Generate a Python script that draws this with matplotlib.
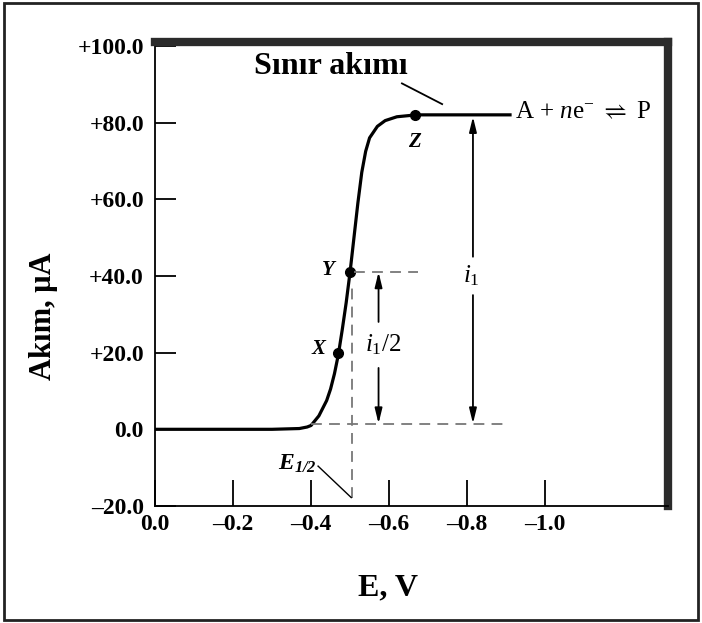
import matplotlib.pyplot as plt
from matplotlib.patches import Rectangle

# Polarogram values (E in V, current in microampere)
e_curve = [0.0, -0.30, -0.37, -0.39, -0.40, -0.42, -0.44, -0.45, -0.46, -0.47,
           -0.48, -0.49, -0.50, -0.51, -0.52, -0.53, -0.54, -0.55, -0.57, -0.59,
           -0.62, -0.67, -0.91]
i_curve = [0.0, 0.0, 0.2, 0.6, 1.0, 3.5, 7.5, 10.5, 14.5, 19.5,
           26.0, 33.0, 41.0, 50.0, 59.0, 67.0, 72.5, 76.0, 79.0, 80.5,
           81.5, 82.0, 82.0]

point_names = ['X', 'Y', 'Z']
point_e = [-0.470, -0.500, -0.667]
point_i = [20.0, 41.0, 82.0]

e_half = -0.505
i_base = 1.5

x_ticks = [0.0, -0.2, -0.4, -0.6, -0.8, -1.0]
x_labels = ['0.0', '\u20130.2', '\u20130.4', '\u20130.6', '\u20130.8', '\u20131.0']
y_ticks = [-20, 0, 20, 40, 60, 80, 100]
y_labels = ['\u201320.0', '0.0', '+20.0', '+40.0', '+60.0', '+80.0', '+100.0']

plt.rcParams['font.family'] = ['Liberation Serif', 'DejaVu Serif']
plt.rcParams['mathtext.fontset'] = 'custom'
plt.rcParams['mathtext.rm'] = 'Liberation Serif'
plt.rcParams['mathtext.it'] = 'Liberation Serif:italic'
plt.rcParams['mathtext.bf'] = 'Liberation Serif:bold:italic'

fig = plt.figure(figsize=(7.02, 6.23), dpi=100)
ax = fig.add_axes([0.2208, 0.1878, 0.7308, 0.7448])

# Frame round the whole picture
fig.patches.append(Rectangle((0.005, 0.005), 0.99, 0.99, transform=fig.transFigure,
                             fill=False, edgecolor='#222222', linewidth=2))

# Curve and marked points
ax.plot(e_curve, i_curve, color='black', lw=2.3, solid_joinstyle='round')
ax.plot(point_e, point_i, 'o', color='black', ms=7)

# Dashed construction lines
dash = dict(color='#777777', lw=1.3, ls=(0, (6, 4)))
ax.plot([e_half, e_half], [-18, 38], **dash)
ax.plot([-0.51, -0.675], [41, 41], **dash)
ax.plot([-0.40, -0.90], [i_base, i_base], **dash)

# Arrows for i1 and i1/2
arrow = dict(arrowstyle='-|>,head_length=0.9,head_width=0.22', color='black', lw=1.3,
             shrinkA=0, shrinkB=0)
ax.annotate('', xy=(-0.573, 41), xytext=(-0.573, 28), arrowprops=arrow)
ax.annotate('', xy=(-0.573, i_base), xytext=(-0.573, 16), arrowprops=arrow)
ax.text(-0.585, 22, r'$i_1/2$', fontsize=18, ha='center', va='center')

ax.annotate('', xy=(-0.815, 81.5), xytext=(-0.815, 45), arrowprops=arrow)
ax.annotate('', xy=(-0.815, i_base), xytext=(-0.815, 35), arrowprops=arrow)
ax.text(-0.812, 40, r'$i_1$', fontsize=18, ha='center', va='center')

# Point labels
label_font = dict(fontsize=15, fontstyle='italic', fontweight='bold',
                  ha='center', va='center')
ax.text(-0.418, 21, point_names[0], **label_font)
ax.text(-0.444, 41.5, point_names[1], **label_font)
ax.text(-0.664, 75, point_names[2], **label_font)
ax.text(-0.364, -9.1, r'$\mathbf{E_{1/2}}$', fontsize=17, ha='center', va='center')
ax.plot([-0.418, -0.503], [-9.6, -17.8], color='black', lw=1)

# Limiting current note and reaction
ax.text(-0.452, 94.5, 'S\u0131n\u0131r ak\u0131m\u0131', fontsize=23, fontweight='bold',
        ha='center', va='center')
ax.plot([-0.633, -0.736], [90.2, 84.8], color='black', lw=1.3)
ax.text(-0.922, 82.6, r'A + $n$e$^{-}$ $\rightleftharpoons$ P', fontsize=18,
        ha='left', va='center')

# Axes
ax.set_xlim(0, -1.315)
ax.set_ylim(-20, 101)
ax.set_xticks(x_ticks)
ax.set_xticklabels(x_labels)
ax.set_yticks(y_ticks)
ax.set_yticklabels(y_labels)
ax.tick_params(direction='in', width=1.3, labelsize=17)
ax.tick_params(axis='y', length=15, pad=8)
ax.tick_params(axis='x', length=19, pad=6)
for lab in ax.get_xticklabels() + ax.get_yticklabels():
    lab.set_fontweight('bold')
ax.set_xlabel('E, V', fontsize=23, fontweight='bold')
ax.set_ylabel('Ak\u0131m, \u03bcA', fontsize=22, fontweight='bold')
ax.xaxis.set_label_coords(0.454, -0.177)
ax.xaxis.label.set_va('center')
ax.yaxis.set_label_coords(-0.218, 0.41)
ax.yaxis.label.set_va('center')

for side in ['left', 'bottom']:
    ax.spines[side].set_linewidth(1.3)
for side in ['top', 'right']:
    ax.spines[side].set_linewidth(6)
    ax.spines[side].set_color('#2b2b2b')

fig.savefig('out.png', dpi=100)
